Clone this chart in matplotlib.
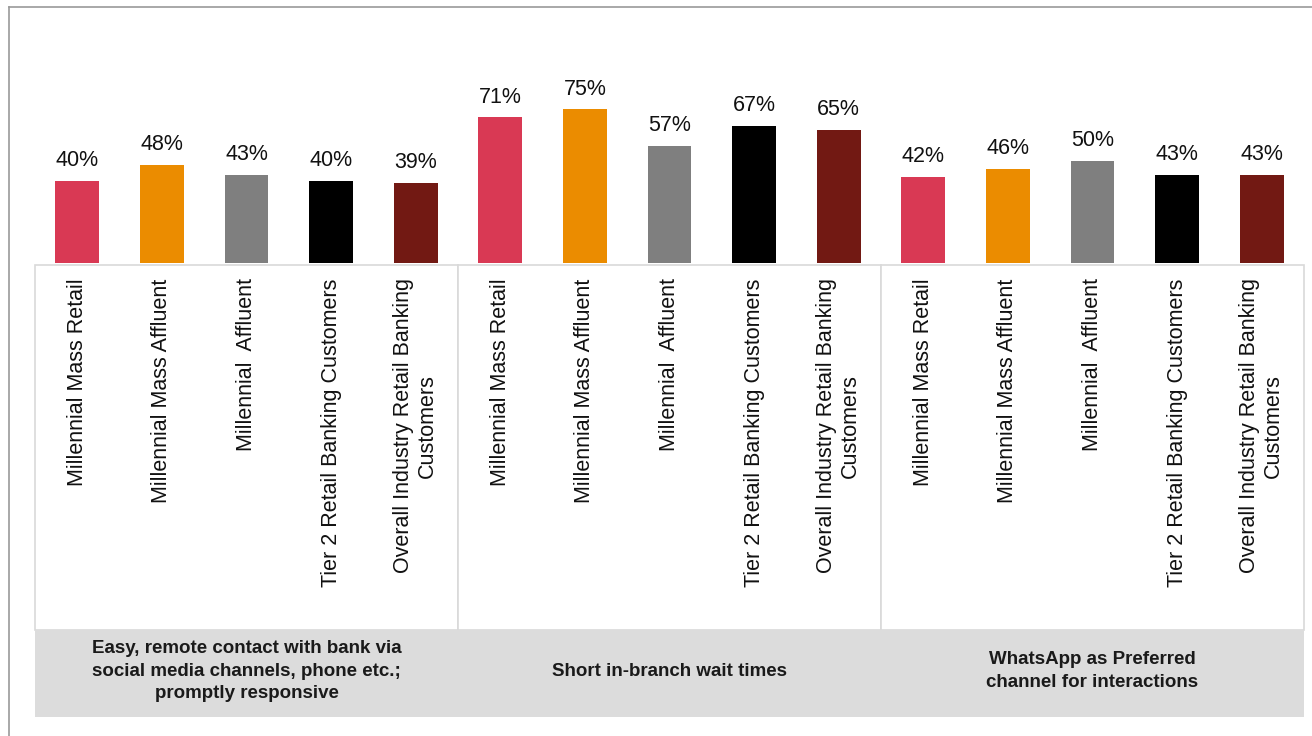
import matplotlib
matplotlib.use("Agg")
import matplotlib.pyplot as plt
from matplotlib.patches import Rectangle
from matplotlib.lines import Line2D
from matplotlib.transforms import blended_transform_factory

plt.rcParams['font.family'] = ['Liberation Sans', 'DejaVu Sans']

# survey results, one list per attribute
segments = ["Millennial Mass Retail", "Millennial Mass Affluent", "Millennial  Affluent",
            "Tier 2 Retail Banking Customers", "Overall Industry Retail Banking\nCustomers"]
attributes = ["Easy, remote contact with bank via\nsocial media channels, phone etc.;\npromptly responsive",
              "Short in-branch wait times",
              "WhatsApp as Preferred\nchannel for interactions"]
remote_contact = [40, 48, 43, 40, 39]
wait_times = [71, 75, 57, 67, 65]
whatsapp = [42, 46, 50, 43, 43]
seg_colors = ["#D93954", "#EB8C00", "#7F7F7F", "#000000", "#721913"]

values = remote_contact + wait_times + whatsapp
labels = segments * 3
colors = seg_colors * 3
xs = list(range(len(values)))

fig = plt.figure(figsize=(13.12, 7.36), dpi=100)
ax = fig.add_axes([35 / 1312, 1 - 263 / 736, 1269 / 1312, 256 / 736])

bars = ax.bar(xs, values, width=0.52, color=colors)
ax.bar_label(bars, labels=[f"{v}%" for v in values], padding=7, fontsize=15.5, color="#111111")

ax.set_xlim(-0.5, len(values) - 0.5)
ax.set_ylim(0, 256 / 2.05)
ax.set_yticks([])
ax.set_xticks(xs)
ax.set_xticklabels(labels, rotation=90, va="top", ha="center", multialignment="center",
                   fontsize=15.5, color="#111111")
ax.tick_params(axis="x", length=0, pad=11)
for s in ax.spines.values():
    s.set_visible(False)

# label boxes and attribute band under the bars
tr = blended_transform_factory(ax.transData, fig.transFigure)
box_top, box_bot, band_bot = 1 - 265 / 736, 1 - 630 / 736, 1 - 717 / 736
for g, name in enumerate(attributes):
    x0 = g * 5 - 0.5
    ax.add_patch(Rectangle((x0 + 0.005, box_bot), 4.99, box_top - box_bot, transform=tr,
                           facecolor="white", edgecolor="#D9D9D9", lw=1.2, clip_on=False, zorder=0))
    ax.text(x0 + 2.5, 1 - 671 / 736, name, transform=tr, ha="center", va="center",
            fontsize=13.5, fontweight="bold", color="#1a1a1a", linespacing=1.4, zorder=3)
ax.add_patch(Rectangle((-0.5, band_bot), 15, box_bot - band_bot, transform=tr,
                       facecolor="#DCDCDC", edgecolor="none", clip_on=False, zorder=1))

# outer frame
fig.add_artist(Line2D([9 / 1312, 1], [1 - 7 / 736, 1 - 7 / 736], color="#9A9A9A", lw=1.2))
fig.add_artist(Line2D([9 / 1312, 9 / 1312], [0, 1 - 7 / 736], color="#9A9A9A", lw=1.2))

fig.savefig("out.png", dpi=100, facecolor="white")
